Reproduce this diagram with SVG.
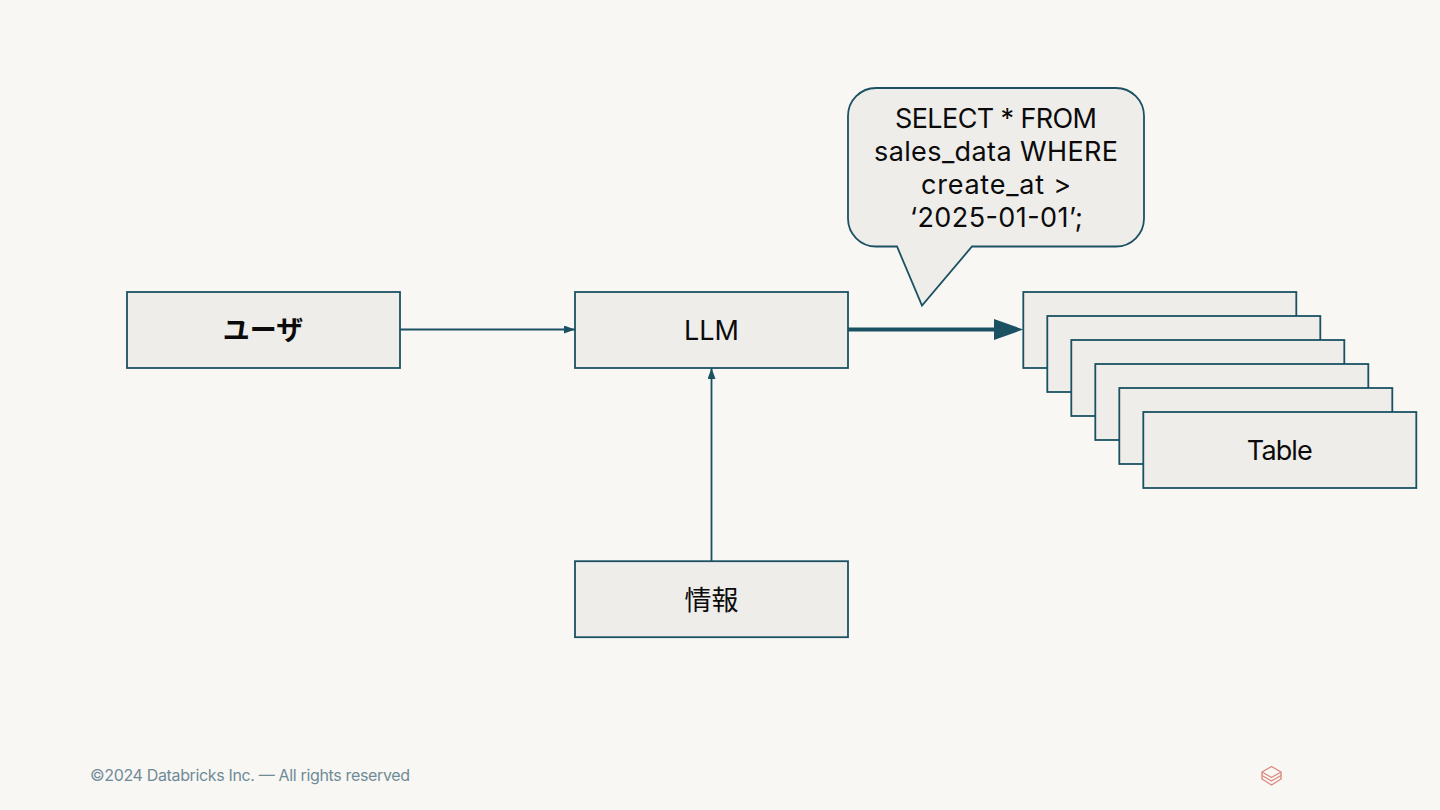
<svg xmlns="http://www.w3.org/2000/svg" width="1440" height="810" viewBox="0 0 1440 810">
<style>
.box{fill:#eeedea;stroke:#1b5162;stroke-width:1.8}
.t{font-family:"Inter","Liberation Sans","Noto Sans CJK JP",sans-serif;font-size:27px;fill:#0b0b0b;text-anchor:middle}
.j{font-family:"Noto Sans CJK JP",sans-serif;font-size:27px;fill:#0b0b0b;text-anchor:middle}
.c{fill:none;stroke:#1b5162;stroke-width:1.8}
.logo{fill:none;stroke:#d98a80;stroke-width:1.4;stroke-linejoin:round}
</style>
<defs>
<marker id="a" markerUnits="userSpaceOnUse" markerWidth="11" markerHeight="8" refX="11" refY="4" orient="auto"><path d="M0 0L11 4L0 8Z" fill="#1b5162"/></marker>
</defs>
<rect width="1440" height="810" fill="#f9f7f4"/>
<g id="connectors">
<line class="c" x1="400" y1="329.500" x2="575" y2="329.500" marker-end="url(#a)"/>
<line class="c" x1="711.500" y1="561" x2="711.500" y2="368" marker-end="url(#a)"/>
<line x1="848" y1="329.500" x2="996" y2="329.500" stroke="#1b5162" stroke-width="4"/>
<path d="M994 319L1023.300 329.500L994 340Z" fill="#1b5162"/>
</g>
<g id="user"><rect class="box" x="127" y="292" width="273" height="76"/><text class="j" x="263" y="340" font-weight="700">ユーザ</text></g>
<g id="llm"><rect class="box" x="575" y="292" width="273" height="76"/><text class="t" x="711.500" y="340">LLM</text></g>
<g id="info"><rect class="box" x="575" y="561.200" width="273" height="76"/><text class="j" x="711.500" y="610">情報</text></g>
<g id="table1"><rect class="box" x="1023.300" y="292" width="273" height="76"/></g>
<g id="table2"><rect class="box" x="1047.300" y="316" width="273" height="76"/></g>
<g id="table3"><rect class="box" x="1071.300" y="340" width="273" height="76"/></g>
<g id="table4"><rect class="box" x="1095.300" y="364" width="273" height="76"/></g>
<g id="table5"><rect class="box" x="1119.300" y="388" width="273" height="76"/></g>
<g id="table6"><rect class="box" x="1143.300" y="412" width="273" height="76"/><text class="t" x="1279.800" y="460" textLength="66">Table</text></g>
<g id="callout">
<path class="box" d="M876 88H1116A28 28 0 0 1 1144 116V218.500A28 28 0 0 1 1116 246.500H972L922 305.500L897 246.500H876A28 28 0 0 1 848 218.500V116A28 28 0 0 1 876 88Z"/>
<text class="t"><tspan x="895" y="128" style="text-anchor:start" textLength="202">SELECT * FROM</tspan></text>
<text class="t"><tspan x="874" y="161" style="text-anchor:start" textLength="244">sales_data WHERE</tspan></text>
<text class="t"><tspan x="921" y="194" style="text-anchor:start" textLength="150">create_at &gt;</tspan></text>
<text class="t"><tspan x="910" y="227" style="text-anchor:start" textLength="173">‘2025-01-01’;</tspan></text>
</g>
<text x="90" y="780.500" font-family="Inter,'Liberation Sans',sans-serif" font-size="16" fill="#6f8b97" textLength="320">©2024 Databricks Inc. — All rights reserved</text>
<g id="logo">
<path class="logo" d="M1271.500 766.500L1281 772L1271.500 777.500L1262 772Z"/>
<path class="logo" d="M1262 772V775.500L1271.500 781L1281 775.500V772"/>
<path class="logo" d="M1262 775.500V779L1271.500 785L1281 779V775.500"/>
</g>
</svg>
